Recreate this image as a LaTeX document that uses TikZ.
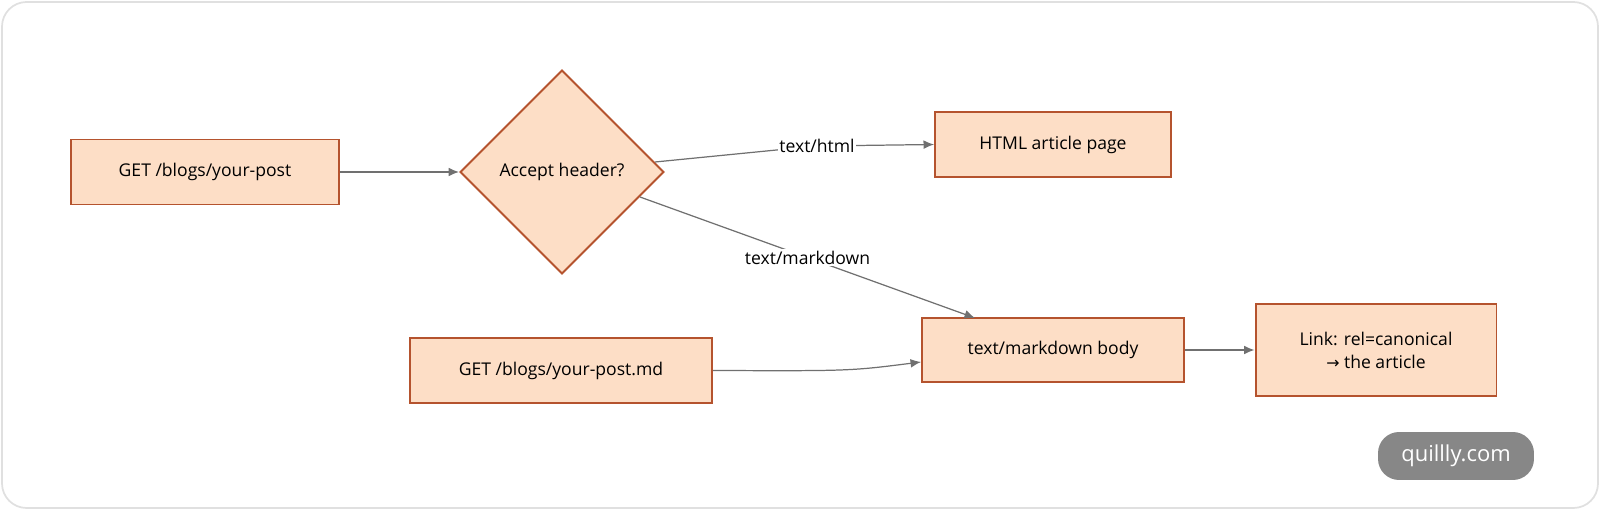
\documentclass[tikz,border=0pt]{standalone}
\usepackage{fontspec}
\setmainfont{Open Sans}
\newfontfamily\symfont{DejaVu Sans}
\usetikzlibrary{shapes.geometric,arrows.meta}
\definecolor{boxfill}{HTML}{FDDEC6}
\definecolor{boxline}{HTML}{B5532E}
\definecolor{edge}{HTML}{707070}
\tikzset{
  box/.style={draw=boxline,fill=boxfill,line width=1.1pt,minimum height=1.3cm,font=\fontsize{10}{13}\selectfont,align=center},
  flow/.style={draw=edge,line width=0.7pt,-{Latex[length=6pt,width=5pt]}},
  tag/.style={fill=white,inner sep=1pt,font=\fontsize{10}{12}\selectfont}
}
\begin{document}
\begin{tikzpicture}[x=0.02cm,y=-0.02cm]
\useasboundingbox (0,0) rectangle (1600,520);
\draw[draw=black!12,line width=1pt,rounded corners=14pt] (2,2) rectangle (1598,508);
\node[box,minimum width=5.36cm] (get) at (205,172) {GET /blogs/your-post};
\node[box,diamond,minimum width=4.08cm,minimum height=4.08cm,inner sep=0pt] (accept) at (562,172) {Accept header?};
\node[box,minimum width=4.72cm] (html) at (1053,144.5) {HTML article page};
\node[box,minimum width=5.24cm,minimum height=1.28cm] (body) at (1053,350) {text/markdown body};
\node[box,minimum width=6.04cm] (getmd) at (561,370.5) {GET /blogs/your-post.md};
\node[box,minimum width=4.82cm,minimum height=1.84cm] (link) at (1376,350) {Link: rel=canonical\\{\symfont\fontsize{9}{13}\selectfont →} the article};
\node[fill=black!47,rounded corners=12pt,minimum width=3.12cm,minimum height=0.96cm,text=white,font=\fontsize{12.5}{14}\selectfont] (brand) at (1456,456) {quillly.com};
\coordinate (a1) at (655,162);
\coordinate (t1) at (817,146);
\coordinate (a2) at (640,197);
\coordinate (b2) at (975,318);
\draw[flow] (get) -- (accept);
\draw[flow] (a1) -- (t1) node[tag] {text/html} -- (html.west);
\draw[flow] (a2) -- node[tag,pos=0.5] {text/markdown} (b2);
\draw[flow] (getmd.east) .. controls (850,371) .. (body.west |- 0,362);
\draw[flow] (body) -- (link);
\end{tikzpicture}
\end{document}
